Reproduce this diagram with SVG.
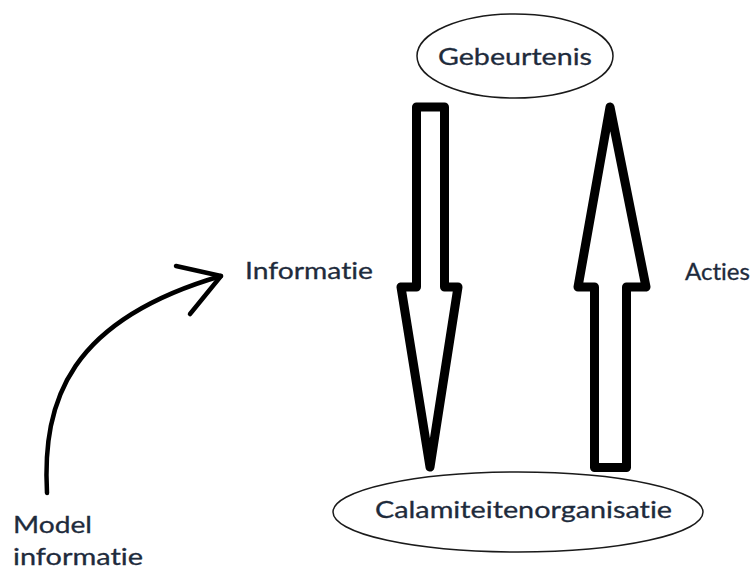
<svg xmlns="http://www.w3.org/2000/svg" width="756" height="571" viewBox="0 0 756 571">
  <style>
    .lbl { font-family: Lato, "Open Sans", "Liberation Sans", sans-serif; font-size: 24px; fill: #1e2b3c; font-variant-ligatures: none; stroke: #1e2b3c; stroke-width: 0.3; }
    .node { fill: #ffffff; stroke: #1a1a1a; stroke-width: 1.5; }
    .block { fill: #ffffff; stroke: #000000; stroke-width: 9; stroke-linejoin: round; }
    .curve { fill: none; stroke: #000000; stroke-width: 4.5; stroke-linecap: round; stroke-linejoin: round; }
  </style>
  <rect width="756" height="571" fill="#ffffff"/>

  <g id="connectors">
    <!-- information flows down into the organisation -->
    <polygon id="arrow-informatie" class="block" points="416.5,107 444.5,107 444.5,287 458,287 430,467 401,287 416.5,287"/>
    <!-- actions flow back up to the event -->
    <polygon id="arrow-acties" class="block" points="610,107 646,287 626.5,287 626.5,467.5 594.5,467.5 594.5,287 578,287"/>
    <!-- model information feeding the information flow -->
    <g id="arrow-model">
      <path class="curve" d="M47,493 C42,400 70,320 221,276"/>
      <path class="curve" d="M176,266 L221,276 L190,314"/>
    </g>
  </g>

  <g id="node-gebeurtenis">
    <ellipse class="node" cx="515" cy="56" rx="98" ry="42"/>
    <text class="lbl" x="438" y="65" textLength="154" lengthAdjust="spacingAndGlyphs">Gebeurtenis</text>
  </g>

  <g id="node-calamiteitenorganisatie">
    <ellipse class="node" cx="518" cy="512" rx="185" ry="40"/>
    <text class="lbl" x="375" y="518" textLength="297" lengthAdjust="spacingAndGlyphs">Calamiteitenorganisatie</text>
  </g>

  <g id="label-informatie">
    <text class="lbl" x="245" y="279" textLength="128" lengthAdjust="spacingAndGlyphs">Informatie</text>
  </g>

  <g id="label-acties">
    <text class="lbl" x="685" y="280" textLength="65" lengthAdjust="spacingAndGlyphs">Acties</text>
  </g>

  <g id="label-model">
    <text class="lbl" x="13" y="533" textLength="79" lengthAdjust="spacingAndGlyphs">Model</text>
    <text class="lbl" x="13" y="565" textLength="130" lengthAdjust="spacingAndGlyphs">informatie</text>
  </g>
</svg>
